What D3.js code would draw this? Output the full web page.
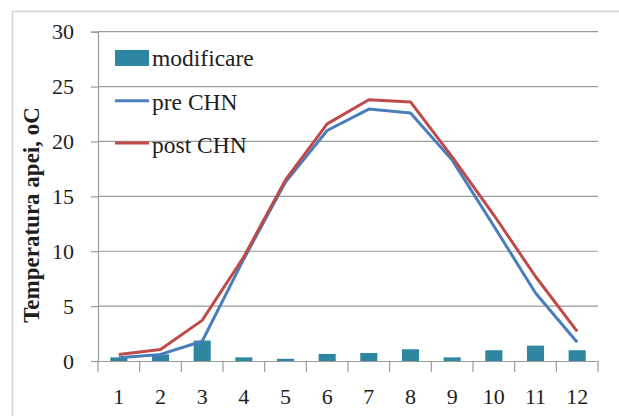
<!DOCTYPE html>
<html><head><meta charset="utf-8">
<script src="https://cdn.jsdelivr.net/npm/d3@7"></script>
<style>html,body{margin:0;padding:0;background:#fff;}svg{display:block;}</style>
</head><body>
<svg id="c" width="619" height="416"></svg>
<script>
const months = ["1","2","3","4","5","6","7","8","9","10","11","12"];
const modificare = [0.33, 0.6, 1.86, 0.33, 0.2, 0.64, 0.73, 1.07, 0.33, 0.98, 1.4, 0.98];
const preCHN  = [0.3, 0.6, 1.8, 9.3, 16.3, 21.0, 22.95, 22.6, 18.3, 12.3, 6.2, 1.7];
const postCHN = [0.6, 1.05, 3.7, 9.5, 16.5, 21.6, 23.8, 23.6, 18.6, 13.3, 7.7, 2.7];
const yTicks = [0, 5, 10, 15, 20, 25, 30];
const legendLabels = ["modificare", "pre CHN", "post CHN"];

const svg = d3.select("#c");
const font = "'Liberation Serif', 'Times New Roman', serif";
const gridColor = "#9a9a9a";
const textColor = "#1e1e1e";

svg.append("rect").attr("x", 12.5).attr("y", 11.5).attr("width", 640).attr("height", 440)
  .attr("fill", "#fff").attr("stroke", "#d4d4d4").attr("stroke-width", 1.5);

const L = 98, R = 598, T = 31.7, B = 361;
const x = d3.scaleBand().domain(months).range([L, R]).paddingInner(0.59).paddingOuter(0.295);
const xb = d3.scaleBand().domain(months).range([L, R]);
const y = d3.scaleLinear().domain([0, 30]).range([B, T]);

// gridlines
svg.append("g").selectAll("line").data(yTicks.filter(d => d > 0)).join("line")
  .attr("x1", L).attr("x2", R).attr("y1", d => y(d)).attr("y2", d => y(d))
  .attr("stroke", gridColor).attr("stroke-width", 1.2);

// y axis
const yAxis = svg.append("g").attr("transform", `translate(${L},0)`)
  .call(d3.axisLeft(y).tickValues(yTicks).tickSize(7).tickPadding(17).tickFormat(d3.format("d")));
yAxis.select(".domain").attr("stroke", gridColor).attr("stroke-width", 1.2);
yAxis.selectAll(".tick line").attr("stroke", gridColor).attr("stroke-width", 1.2);
yAxis.selectAll(".tick text").attr("font-family", font).attr("font-size", 22).attr("fill", textColor)
  .attr("dy", "0.33em");

// x axis
const xAxis = svg.append("g").attr("transform", `translate(0,${B})`)
  .call(d3.axisBottom(xb).tickSize(0).tickPadding(36));
xAxis.select(".domain").attr("stroke", gridColor).attr("stroke-width", 1.2);
xAxis.selectAll(".tick text").attr("font-family", font).attr("font-size", 22).attr("fill", textColor)
  .attr("dy", "0.33em");
const bounds = months.map(m => xb(m)).concat([R]);
svg.append("g").selectAll("line").data(bounds).join("line")
  .attr("x1", d => d).attr("x2", d => d).attr("y1", B).attr("y2", B + 11)
  .attr("stroke", gridColor).attr("stroke-width", 1.2);

// bars
svg.append("g").selectAll("rect").data(modificare).join("rect")
  .attr("x", (d, i) => x(months[i])).attr("width", x.bandwidth())
  .attr("y", d => y(d)).attr("height", d => B - y(d))
  .attr("fill", "#2f86a0");

// lines
const line = d3.line().x((d, i) => xb(months[i]) + xb.bandwidth() / 2).y(d => y(d));
svg.append("path").datum(preCHN).attr("d", line).attr("fill", "none")
  .attr("stroke", "#4a7ebb").attr("stroke-width", 3).attr("stroke-linejoin", "round");
svg.append("path").datum(postCHN).attr("d", line).attr("fill", "none")
  .attr("stroke", "#be4b48").attr("stroke-width", 3).attr("stroke-linejoin", "round");

// y title
svg.append("text").attr("transform", "translate(39,215) rotate(-90)")
  .attr("text-anchor", "middle").attr("font-family", font).attr("font-weight", "bold")
  .attr("font-size", 23).attr("fill", textColor).text("Temperatura apei, oC");

// legend
const lg = svg.append("g");
lg.append("rect").attr("x", 115).attr("y", 50).attr("width", 34).attr("height", 16).attr("fill", "#2f86a0");
lg.append("line").attr("x1", 115).attr("x2", 149).attr("y1", 100.7).attr("y2", 100.7)
  .attr("stroke", "#4a7ebb").attr("stroke-width", 3);
lg.append("line").attr("x1", 115).attr("x2", 149).attr("y1", 143).attr("y2", 143)
  .attr("stroke", "#be4b48").attr("stroke-width", 3);
const lgY = [66, 110, 153];
lg.selectAll("text").data(legendLabels).join("text")
  .attr("x", 152).attr("y", (d, i) => lgY[i])
  .attr("font-family", font).attr("font-size", 23.5).attr("fill", textColor).text(d => d);
</script>
</body></html>
